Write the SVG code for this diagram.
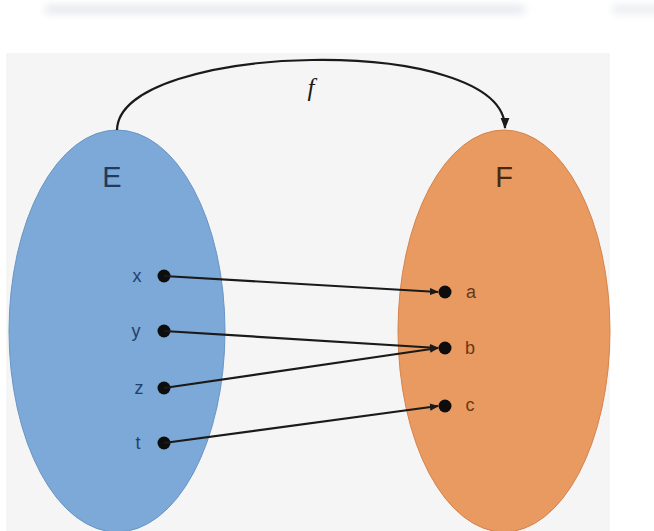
<svg xmlns="http://www.w3.org/2000/svg" width="654" height="531" viewBox="0 0 654 531">
  <defs>
    <filter id="blur" x="-20%" y="-300%" width="140%" height="700%">
      <feGaussianBlur stdDeviation="4"/>
    </filter>
    <marker id="arr" viewBox="0 0 10 10" refX="9" refY="5" markerWidth="9" markerHeight="9" markerUnits="userSpaceOnUse" orient="auto">
      <path d="M0,1 L10,5 L0,9 Z" fill="#1a1a1a"/>
    </marker>
    <marker id="arrBig" viewBox="0 0 10 10" refX="9" refY="5" markerWidth="11" markerHeight="11" markerUnits="userSpaceOnUse" orient="auto">
      <path d="M0,1 L10,5 L0,9 Z" fill="#1a1a1a"/>
    </marker>
  </defs>
  <style>
    .lbl { font-family: "Liberation Sans", Arial, sans-serif; }
    .setE { fill: #7ca9d8; stroke: #6a95c4; stroke-width: 1; }
    .setF { fill: #e99a61; stroke: #d4834c; stroke-width: 1; }
    .dot { fill: #0d0d0d; }
    .elE { fill: #23406a; font-size: 18px; }
    .elF { fill: #6a3816; font-size: 18px; }
    .conn { stroke: #1a1a1a; stroke-width: 2.2; fill: none; }
  </style>

  <rect x="0" y="0" width="654" height="531" fill="#ffffff"/>
  <!-- faint card shadow at top -->
  <rect x="45" y="6" width="480" height="7" rx="3" fill="#dfe2e9" filter="url(#blur)"/>
  <rect x="612" y="6" width="60" height="7" rx="3" fill="#e6e8ed" filter="url(#blur)"/>

  <!-- panel -->
  <rect x="6" y="53" width="604" height="478" fill="#f5f5f5"/>

  <g id="setE">
    <ellipse class="setE" cx="117" cy="331" rx="108" ry="201"/>
    <text class="lbl" x="112" y="187" font-size="29" fill="#1f3b5e" text-anchor="middle">E</text>
  </g>
  <g id="setF">
    <ellipse class="setF" cx="504" cy="331" rx="106" ry="201"/>
    <text class="lbl" x="504" y="187" font-size="29" fill="#4a2810" text-anchor="middle">F</text>
  </g>

  <g id="node-x">
    <circle class="dot" cx="164" cy="276" r="6.5"/>
    <text class="lbl elE" x="137" y="282" text-anchor="middle">x</text>
  </g>
  <g id="node-y">
    <circle class="dot" cx="164" cy="331" r="6.5"/>
    <text class="lbl elE" x="136" y="337" text-anchor="middle">y</text>
  </g>
  <g id="node-z">
    <circle class="dot" cx="164" cy="388" r="6.5"/>
    <text class="lbl elE" x="139" y="394" text-anchor="middle">z</text>
  </g>
  <g id="node-t">
    <circle class="dot" cx="164" cy="443" r="6.5"/>
    <text class="lbl elE" x="138" y="449" text-anchor="middle">t</text>
  </g>

  <g id="node-a">
    <circle class="dot" cx="445" cy="292" r="6.5"/>
    <text class="lbl elF" x="471" y="298" text-anchor="middle">a</text>
  </g>
  <g id="node-b">
    <circle class="dot" cx="445" cy="348" r="6.5"/>
    <text class="lbl elF" x="470" y="354" text-anchor="middle">b</text>
  </g>
  <g id="node-c">
    <circle class="dot" cx="445" cy="406" r="6.5"/>
    <text class="lbl elF" x="470" y="411" text-anchor="middle">c</text>
  </g>

  <g id="connectors">
    <path class="conn" d="M117,130 C119,42 505,32 505,128" marker-end="url(#arrBig)"/>
    <text x="311" y="96" font-family="Liberation Serif, Times New Roman, serif" font-style="italic" font-size="25" fill="#1a1a1a" text-anchor="middle">f</text>
    <line class="conn" x1="164" y1="276" x2="438" y2="292" marker-end="url(#arr)"/>
    <line class="conn" x1="164" y1="331" x2="438" y2="348" marker-end="url(#arr)"/>
    <line class="conn" x1="164" y1="388" x2="438" y2="348" marker-end="url(#arr)"/>
    <line class="conn" x1="164" y1="443" x2="438" y2="406" marker-end="url(#arr)"/>
  </g>
</svg>
